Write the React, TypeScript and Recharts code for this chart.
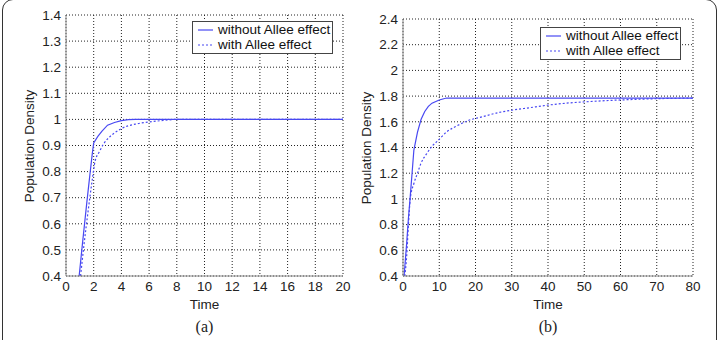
import { CartesianGrid, Line, LineChart, XAxis, YAxis } from "recharts";

// panel (a): time values and densities
const timeA_noAllee = [0.95, 1.2, 1.5, 1.75, 1.9, 2.0, 2.3, 2.6, 3.0, 3.5, 4.0, 4.5, 5.0, 20];
const densA_noAllee = [0.4, 0.53, 0.68, 0.8, 0.87, 0.91, 0.935, 0.955, 0.978, 0.988, 0.995, 0.999, 1.0, 1.0];
const timeA_allee = [1.05, 1.3, 1.6, 1.9, 2.1, 2.4, 2.7, 3.0, 3.5, 4.0, 5.0, 6.0, 7.0, 8.0, 20];
const densA_allee = [0.4, 0.52, 0.65, 0.77, 0.84, 0.875, 0.905, 0.925, 0.948, 0.965, 0.982, 0.99, 0.996, 1.0, 1.0];

// panel (b)
const timeB_noAllee = [0.3, 1, 1.5, 2, 2.5, 3, 4, 5, 6, 7, 8, 10, 12, 80];
const densB_noAllee = [0.4, 0.65, 0.85, 1.02, 1.2, 1.38, 1.52, 1.62, 1.68, 1.72, 1.745, 1.77, 1.785, 1.785];
const timeB_allee = [0.5, 1, 1.5, 2, 3, 4, 5, 6.5, 8, 9.5, 12, 15, 18, 22, 26, 30, 35, 40, 45, 50, 60, 70, 80];
const densB_allee = [0.4, 0.55, 0.8, 1.0, 1.12, 1.2, 1.28, 1.35, 1.41, 1.45, 1.52, 1.57, 1.61, 1.64, 1.67, 1.69, 1.71, 1.73, 1.745, 1.755, 1.77, 1.78, 1.785];

const ticksA_x = [0, 2, 4, 6, 8, 10, 12, 14, 16, 18, 20];
const ticksA_y = [0.4, 0.5, 0.6, 0.7, 0.8, 0.9, 1.0, 1.1, 1.2, 1.3, 1.4];
const ticksB_x = [0, 10, 20, 30, 40, 50, 60, 70, 80];
const ticksB_y = [0.4, 0.6, 0.8, 1.0, 1.2, 1.4, 1.6, 1.8, 2.0, 2.2, 2.4];

const LABEL_NO = "without Allee effect";
const LABEL_AL = "with Allee effect";
const BLUE = "#4848f2";
const FONT = "Arial, 'Liberation Sans', Helvetica, sans-serif";
const SERIF = "'Times New Roman', 'Liberation Serif', serif";
const FS = 13.5;

const zip = (t: number[], v: number[]) => t.map((x, i) => ({ t: x, y: v[i] }));

const fmt = (v: number) => String(Number(v.toFixed(1)));

interface PanelProps {
  left: number;
  width: number;
  margin: { top: number; right: number; bottom: number; left: number };
  xTicks: number[];
  yTicks: number[];
  noAllee: { t: number; y: number }[];
  allee: { t: number; y: number }[];
  legendPos: { left: number; top: number };
  yLabelX: number;
  caption: string;
}

const LegendBox = ({ left, top }: { left: number; top: number }) => (
  <div
    style={{
      position: "absolute",
      left,
      top,
      border: "1px solid #444",
      background: "#fff",
      padding: "0px 2px 1px 5px",
      fontFamily: FONT,
      fontSize: FS,
      lineHeight: "15px",
      color: "#111",
      whiteSpace: "nowrap",
    }}
  >
    {[LABEL_NO, LABEL_AL].map((name, i) => (
      <div key={name} style={{ display: "flex", alignItems: "center" }}>
        <svg width={15} height={10} style={{ marginRight: 5 }}>
          <line
            x1={0}
            y1={5}
            x2={15}
            y2={5}
            stroke={BLUE}
            strokeWidth={1.2}
            strokeDasharray={i === 1 ? "2 2" : undefined}
          />
        </svg>
        {name}
      </div>
    ))}
  </div>
);

function Panel(p: PanelProps) {
  const plotTop = p.margin.top;
  const plotBottom = 340 - p.margin.bottom - 30;
  const plotLeft = p.margin.left + 40;
  const plotRight = p.width - p.margin.right;
  const cx = (plotLeft + plotRight) / 2;
  return (
    <div style={{ position: "absolute", left: p.left, top: 0, width: p.width, height: 340 }}>
      <LineChart width={p.width} height={340} margin={p.margin}>
        <CartesianGrid stroke="#222" strokeDasharray="1 2" strokeWidth={1} />
        <XAxis
          type="number"
          dataKey="t"
          domain={[p.xTicks[0], p.xTicks[p.xTicks.length - 1]]}
          ticks={p.xTicks}
          height={30}
          tickLine={false}
          tickSize={3}
          axisLine={{ stroke: "#888" }}
          tick={{ fill: "#222", fontSize: FS, fontFamily: FONT }}
          allowDataOverflow
        />
        <YAxis
          type="number"
          domain={[p.yTicks[0], p.yTicks[p.yTicks.length - 1]]}
          ticks={p.yTicks}
          width={40}
          tickLine={false}
          tickSize={3}
          tickFormatter={fmt}
          axisLine={{ stroke: "#888" }}
          tick={{ fill: "#222", fontSize: FS, fontFamily: FONT }}
          allowDataOverflow
        />
        <Line
          data={p.noAllee}
          dataKey="y"
          name={LABEL_NO}
          stroke={BLUE}
          strokeWidth={1.2}
          dot={false}
          type="linear"
          isAnimationActive={false}
        />
        <Line
          data={p.allee}
          dataKey="y"
          name={LABEL_AL}
          stroke={BLUE}
          strokeWidth={1.2}
          strokeDasharray="2 2"
          dot={false}
          type="monotone"
          isAnimationActive={false}
        />
      </LineChart>
      <LegendBox left={p.legendPos.left} top={p.legendPos.top} />
      <div
        style={{
          position: "absolute",
          left: p.yLabelX - 80,
          top: (plotTop + plotBottom) / 2 - 8,
          width: 160,
          textAlign: "center",
          transform: "rotate(-90deg)",
          fontFamily: FONT,
          fontSize: FS,
          color: "#222",
          lineHeight: "16px",
        }}
      >
        Population Density
      </div>
      <div
        style={{
          position: "absolute",
          left: cx - 40,
          top: 297,
          width: 80,
          textAlign: "center",
          fontFamily: FONT,
          fontSize: FS,
          color: "#222",
          lineHeight: "16px",
        }}
      >
        Time
      </div>
      <div
        style={{
          position: "absolute",
          left: cx - 40,
          top: 318,
          width: 80,
          textAlign: "center",
          fontFamily: SERIF,
          fontSize: 16,
          color: "#222",
          lineHeight: "18px",
        }}
      >
        {p.caption}
      </div>
    </div>
  );
}

export default function App() {
  return (
    <div
      style={{
        position: "absolute",
        left: 0,
        top: 0,
        width: 721,
        height: 340,
        background: "#fff",
        overflow: "hidden",
      }}
    >
      <div
        style={{
          position: "absolute",
          left: 2,
          top: -1,
          width: 713,
          height: 360,
          border: "1.5px solid #333",
          borderRadius: 11,
        }}
      />
      <Panel
        left={0}
        width={360}
        margin={{ top: 15, right: 17, bottom: 34, left: 26 }}
        xTicks={ticksA_x}
        yTicks={ticksA_y}
        noAllee={zip(timeA_noAllee, densA_noAllee)}
        allee={zip(timeA_allee, densA_allee)}
        legendPos={{ left: 192, top: 21 }}
        yLabelX={30}
        caption="(a)"
      />
      <Panel
        left={360}
        width={361}
        margin={{ top: 19, right: 28, bottom: 34, left: 3 }}
        xTicks={ticksB_x}
        yTicks={ticksB_y}
        noAllee={zip(timeB_noAllee, densB_noAllee)}
        allee={zip(timeB_allee, densB_allee)}
        legendPos={{ left: 180, top: 27 }}
        yLabelX={7}
        caption="(b)"
      />
    </div>
  );
}
